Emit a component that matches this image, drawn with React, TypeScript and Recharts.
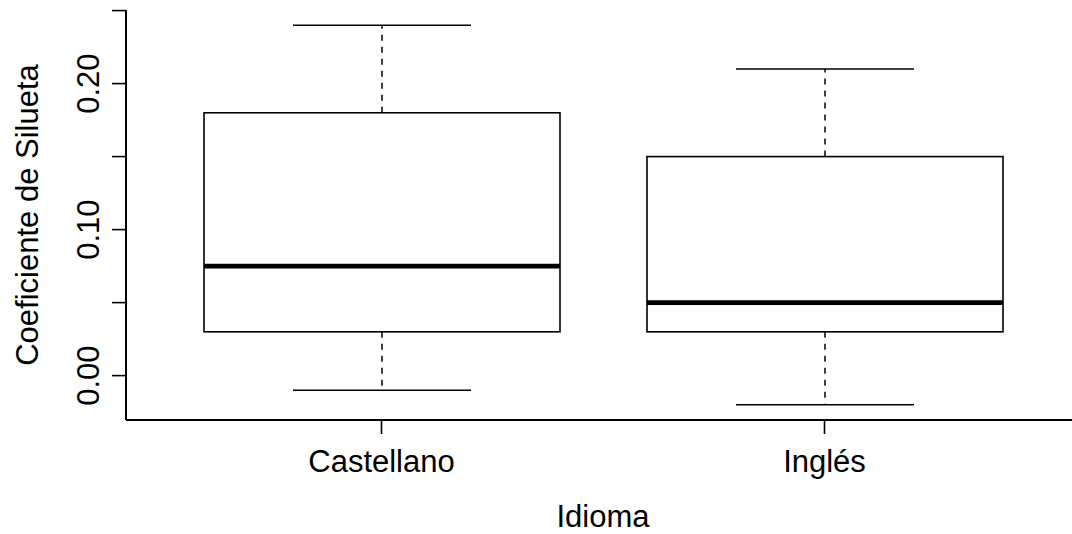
import { ComposedChart, Bar, XAxis, YAxis } from 'recharts';

// boxplot statistics per language
const categories = ['Castellano', 'Inglés'];
const minimums = [-0.01, -0.02];
const lowerQuartiles = [0.03, 0.03];
const medians = [0.075, 0.05];
const upperQuartiles = [0.18, 0.15];
const maximums = [0.24, 0.21];

const yTicks = [0, 0.05, 0.1, 0.15, 0.2, 0.25];
const yLabelled = ['0.00', '0.10', '0.20'];

const data = categories.map((name, i) => ({
  name,
  min: minimums[i],
  q1: lowerQuartiles[i],
  median: medians[i],
  q3: upperQuartiles[i],
  max: maximums[i],
  range: [minimums[i], maximums[i]],
}));

const FONT = '"Liberation Sans", Arial, Helvetica, sans-serif';
const INK = '#000';
const FS = 31;

function BoxShape(props: any) {
  const { x, y, width, height } = props;
  const p = props.payload ?? props;
  const top = Math.min(y, y + height);
  const h = Math.abs(height);
  const py = (v: number) => top + ((p.max - v) / (p.max - p.min)) * h;
  const cx = x + width / 2;
  const cap = width / 4;
  return (
    <g>
      <line x1={cx} x2={cx} y1={py(p.q1)} y2={py(p.min)} stroke={INK} strokeWidth={1.5} strokeDasharray="6 6" />
      <line x1={cx} x2={cx} y1={py(p.q3)} y2={py(p.max)} stroke={INK} strokeWidth={1.5} strokeDasharray="6 6" />
      <line x1={cx - cap} x2={cx + cap} y1={py(p.min)} y2={py(p.min)} stroke={INK} strokeWidth={1.5} />
      <line x1={cx - cap} x2={cx + cap} y1={py(p.max)} y2={py(p.max)} stroke={INK} strokeWidth={1.5} />
      <rect x={x} y={py(p.q3)} width={width} height={py(p.q1) - py(p.q3)} fill="#fff" stroke={INK} strokeWidth={1.6} />
      <line x1={x} x2={x + width} y1={py(p.median)} y2={py(p.median)} stroke={INK} strokeWidth={4.6} />
    </g>
  );
}

function XTick(props: any) {
  const { x, y, payload } = props;
  return (
    <text x={x} y={y} textAnchor="middle" fontSize={FS} fontFamily={FONT} fill={INK}>
      {payload.value}
    </text>
  );
}

function YTick(props: any) {
  const { x, y, payload } = props;
  const label = Number(payload.value).toFixed(2);
  if (!yLabelled.includes(label)) return <g />;
  return (
    <text x={x} y={y} transform={`rotate(-90, ${x}, ${y})`} textAnchor="middle" fontSize={FS} fontFamily={FONT} fill={INK}>
      {label}
    </text>
  );
}

function YTitle(props: any) {
  const vb = props.viewBox;
  const x = vb.x + 38;
  const y = vb.y + vb.height / 2;
  return (
    <text x={x} y={y} transform={`rotate(-90, ${x}, ${y})`} textAnchor="middle" fontSize={FS} fontFamily={FONT} fill={INK}>
      Coeficiente de Silueta
    </text>
  );
}

function XTitle(props: any) {
  const vb = props.viewBox;
  return (
    <text x={vb.x + vb.width / 2} y={vb.y + 107} textAnchor="middle" fontSize={FS} fontFamily={FONT} fill={INK}>
      Idioma
    </text>
  );
}

export default function App() {
  return (
    <div style={{ position: 'fixed', left: 0, top: 0, width: 1072, height: 534, overflow: 'hidden', background: '#fff' }}>
      <ComposedChart
        width={1080}
        height={534}
        data={data}
        margin={{ top: 10, right: 0, bottom: 0, left: 0 }}
        style={{ fontFamily: FONT }}
      >
        <XAxis
          dataKey="name"
          type="category"
          interval={0}
          padding={{ left: 34, right: 34 }}
          height={114}
          tickSize={14}
          tickMargin={38}
          tick={<XTick />}
          axisLine={{ stroke: INK, strokeWidth: 2 }}
          tickLine={{ stroke: INK, strokeWidth: 1.6 }}
          label={<XTitle />}
        />
        <XAxis
          xAxisId="top"
          dataKey="name"
          orientation="top"
          height={0}
          tick={false}
          tickLine={false}
          axisLine={{ stroke: INK, strokeWidth: 2 }}
        />
        <YAxis
          type="number"
          domain={[-0.0304, 0.2504]}
          allowDataOverflow
          ticks={yTicks}
          interval={0}
          width={126}
          tickSize={14}
          tickMargin={13}
          tick={<YTick />}
          axisLine={{ stroke: INK, strokeWidth: 2 }}
          tickLine={{ stroke: INK, strokeWidth: 1.6 }}
          label={<YTitle />}
        />
        <Bar dataKey="range" barSize={356} shape={<BoxShape />} isAnimationActive={false} />
      </ComposedChart>
    </div>
  );
}
